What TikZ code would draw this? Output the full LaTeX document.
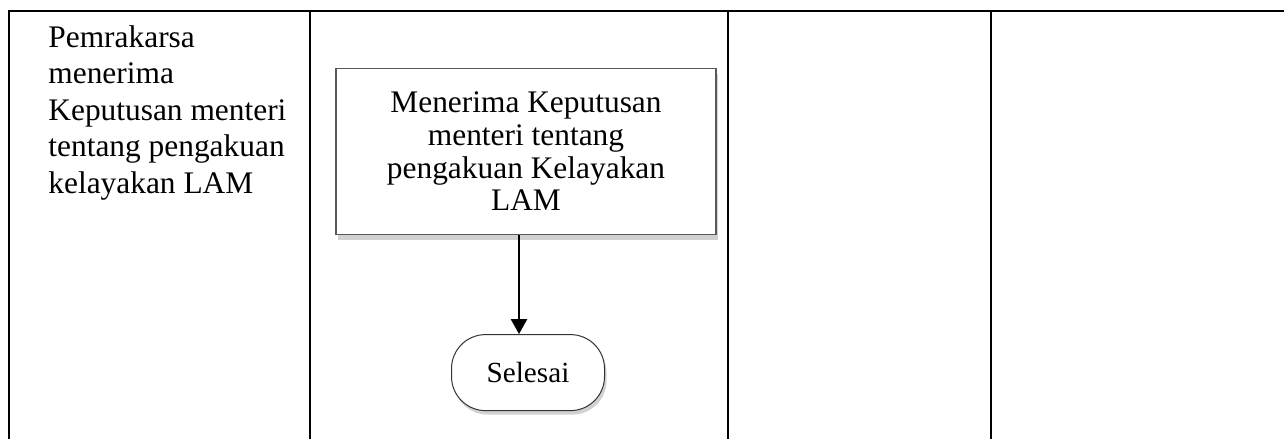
\documentclass[tikz,border=0pt]{standalone}
\usepackage{fontspec}
\setmainfont{Liberation Serif}
\usetikzlibrary{positioning,shadows,arrows.meta}

\tikzset{
  lane/.style={line width=1pt},
  process/.style={draw=black!65, line width=0.6pt, fill=white, minimum width=190pt,
    minimum height=83pt, align=center, inner sep=2pt,
    font=\fontsize{15.7}{16.3}\selectfont,
    drop shadow={shadow xshift=1pt, shadow yshift=-2.5pt, fill=black!18, opacity=1}},
  terminal/.style={draw=black!80, line width=0.5pt, fill=white, rounded corners=17pt,
    minimum width=76.5pt, minimum height=38pt, font=\fontsize{14.6}{16}\selectfont,
    drop shadow={shadow xshift=1pt, shadow yshift=-2pt, fill=black!18, opacity=1}},
  flow/.style={line width=1.2pt, -{Triangle[width=8pt,length=7.5pt]}},
}

\begin{document}
\begin{tikzpicture}[x=0.5pt, y=-0.5pt]
  \useasboundingbox (0,0) rectangle (1284,439);

  % Table lanes
  \draw[lane] (9,439) -- (9,11) -- (1284,11);
  \draw[lane] (310,11) -- (310,439);
  \draw[lane] (728,11) -- (728,439);
  \draw[lane] (991,11) -- (991,439);

  % Lane text
  \node[anchor=north west, align=left, inner sep=0pt,
    font=\fontsize{15.7}{18.3}\selectfont] (desc) at (48,25)
    {Pemrakarsa\\menerima\\Keputusan menteri\\tentang pengakuan\\kelayakan LAM};

  % Flow nodes
  \node[process] (terima) at (526,151.5)
    {Menerima Keputusan\\menteri tentang\\pengakuan Kelayakan\\LAM};
  \node[terminal, below=49.5pt of terima, xshift=1pt] (selesai) {Selesai};

  % Connect the nodes
  \draw[flow] ([xshift=-3.5pt]terima.south) -- ([xshift=-3.5pt]terima.south |- selesai.north);
\end{tikzpicture}
\end{document}
